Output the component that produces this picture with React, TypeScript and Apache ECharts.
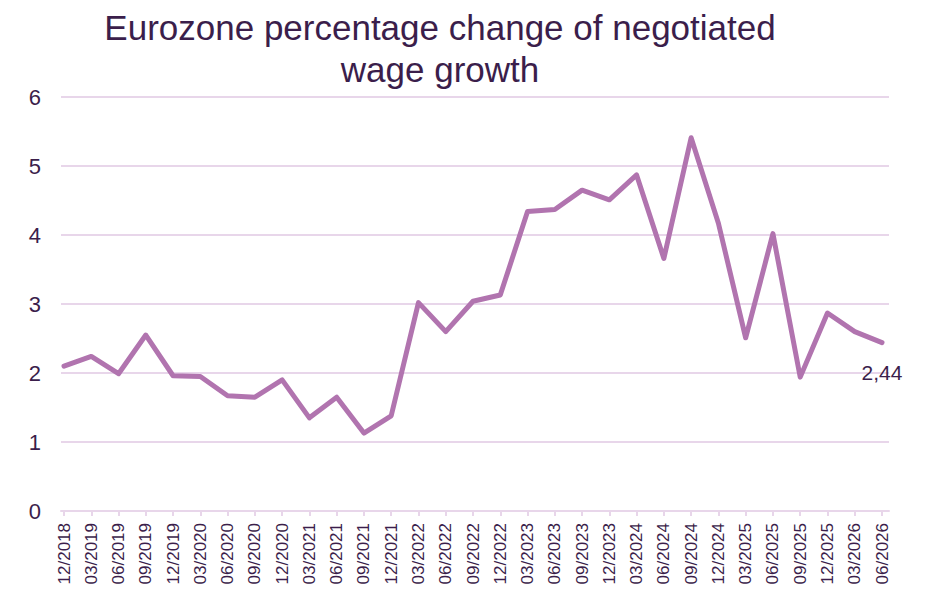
import React, { useEffect, useRef } from "react";
import * as echarts from "echarts";

const categories = [
  "12/2018", "03/2019", "06/2019", "09/2019", "12/2019", "03/2020", "06/2020", "09/2020",
  "12/2020", "03/2021", "06/2021", "09/2021", "12/2021", "03/2022", "06/2022", "09/2022",
  "12/2022", "03/2023", "06/2023", "09/2023", "12/2023", "03/2024", "06/2024", "09/2024",
  "12/2024", "03/2025", "06/2025", "09/2025", "12/2025", "03/2026", "06/2026",
];

const wageGrowth = [
  2.1, 2.24, 1.99, 2.55, 1.96, 1.95, 1.67, 1.65,
  1.9, 1.35, 1.65, 1.13, 1.38, 3.02, 2.6, 3.04,
  3.13, 4.34, 4.37, 4.65, 4.51, 4.87, 3.66, 5.41,
  4.17, 2.51, 4.02, 1.94, 2.87, 2.6, 2.44,
];

const yTicks = { min: 0, max: 6, interval: 1 };

const TITLE = "Eurozone percentage change of negotiated\nwage growth";
const TEXT = "#3B1E4B";
const GRID = "#E8D6EA";
const LINE = "#B174AF";
const FONT = "'Liberation Sans', Arial, sans-serif";

export default function App() {
  const ref = useRef<HTMLDivElement>(null);
  useEffect(() => {
    if (!ref.current) return;
    const chart = echarts.init(ref.current, undefined, { renderer: "svg" });
    const last = wageGrowth.length - 1;
    chart.setOption({
      animation: false,
      backgroundColor: "#ffffff",
      textStyle: { fontFamily: FONT },
      graphic: [
        {
          type: "text",
          x: 440,
          y: 6,
          style: {
            text: TITLE,
            font: `35px ${FONT}`,
            fill: TEXT,
            textAlign: "center",
            lineHeight: 42,
          },
        },
      ],
      grid: [
        { left: 64, right: 61, top: 97, bottom: 101 },
        { left: 61, right: 54, top: 97, bottom: 101 },
      ],
      xAxis: [
        {
          type: "category",
          gridIndex: 0,
          data: categories,
          boundaryGap: false,
          axisLine: { show: false },
          axisTick: { show: true, length: 5, lineStyle: { color: GRID, width: 2 } },
          axisLabel: {
            rotate: 90,
            fontSize: 17,
            color: TEXT,
            margin: 12,
            interval: 0,
            fontFamily: FONT,
          },
          splitLine: { show: false },
        },
        {
          type: "value",
          gridIndex: 1,
          min: 0,
          max: 1,
          axisLine: { show: true, lineStyle: { color: GRID, width: 2 } },
          axisTick: { show: false },
          axisLabel: { show: false },
          splitLine: { show: false },
        },
      ],
      yAxis: [
        {
          type: "value",
          gridIndex: 0,
          ...yTicks,
          show: false,
          splitLine: { show: false },
        },
        {
          type: "value",
          gridIndex: 1,
          ...yTicks,
          axisLine: { show: false },
          axisTick: { show: false },
          axisLabel: { fontSize: 22, color: TEXT, margin: 20, fontFamily: FONT },
          splitLine: { show: true, lineStyle: { color: GRID, width: 2 } },
        },
      ],
      series: [
        {
          type: "line",
          xAxisIndex: 0,
          yAxisIndex: 0,
          symbol: "circle",
          showSymbol: true,
          symbolSize: (_v: any, p: any) => (p.dataIndex === last ? 1 : 0),
          lineStyle: { color: LINE, width: 5, join: "round", cap: "round" },
          itemStyle: { color: LINE },
          data: wageGrowth.map((v, i) =>
            i === last
              ? {
                  value: v,
                  label: {
                    show: true,
                    position: "bottom",
                    distance: 19,
                    fontSize: 21,
                    color: TEXT,
                    fontFamily: FONT,
                    formatter: (p: any) => Number(p.value).toFixed(2).replace(".", ","),
                  },
                }
              : v
          ),
        },
      ],
    });
    return () => chart.dispose();
  }, []);
  return (
    <div
      ref={ref}
      style={{ position: "fixed", left: 0, top: 0, width: 943, height: 612, background: "#fff" }}
    />
  );
}
